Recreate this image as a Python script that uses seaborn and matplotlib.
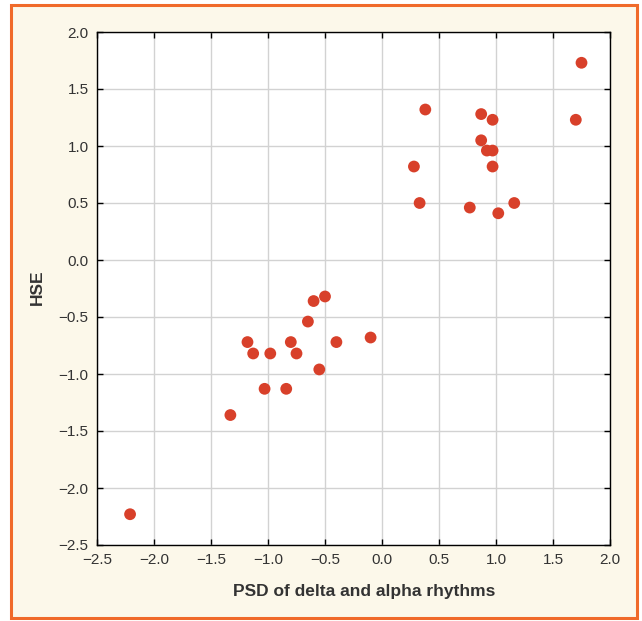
import numpy as np
import pandas as pd
import matplotlib
matplotlib.use("Agg")
import matplotlib.pyplot as plt
from matplotlib.patches import Rectangle
import seaborn as sns

# data
psd = [-2.21, -1.33, -1.03, -0.84, -1.18, -1.13, -0.98, -0.80, -0.75,
       -0.65, -0.60, -0.50, -0.55, -0.40, -0.10,
       1.75, 0.38, 0.87, 0.97, 1.70, 0.87, 0.92, 0.97, 0.28, 0.97,
       0.33, 0.77, 1.02, 1.16]
hse = [-2.23, -1.36, -1.13, -1.13, -0.72, -0.82, -0.82, -0.72, -0.82,
       -0.54, -0.36, -0.32, -0.96, -0.72, -0.68,
       1.73, 1.32, 1.28, 1.23, 1.23, 1.05, 0.96, 0.96, 0.82, 0.82,
       0.50, 0.46, 0.41, 0.50]
ticks = [-2.5, -2.0, -1.5, -1.0, -0.5, 0.0, 0.5, 1.0, 1.5, 2.0]

df = pd.DataFrame({"PSD": psd, "HSE": hse})

sns.set_style("whitegrid")
plt.rcParams["font.family"] = ["Liberation Sans", "DejaVu Sans"]

fig = plt.figure(figsize=(6.42, 6.21), dpi=100, facecolor="white")

# beige panel with orange frame (behind the axes)
fig.patches.append(Rectangle((11/642, 3/621), 626/642, 613/621,
                             transform=fig.transFigure, facecolor="#fcf8ea",
                             edgecolor="#f06a2a", linewidth=2.2, zorder=-5))

ax = fig.add_axes([97/642, 1 - 545/621, 513/642, 513/621])
ax.set_zorder(1)
ax.set_facecolor("white")

sns.scatterplot(data=df, x="PSD", y="HSE", ax=ax, color="#d8402a",
                s=72, edgecolor="none", zorder=3)

ax.set_xlim(-2.5, 2.0)
ax.set_ylim(-2.5, 2.0)
ax.set_xticks(ticks)
ax.set_yticks(ticks)
ax.set_xticklabels([f"{t:.1f}".replace("-", "\u2212") for t in ticks])
ax.set_yticklabels([f"{t:.1f}".replace("-", "\u2212") for t in ticks])

ax.grid(True, color="#d2d2d2", linewidth=1.0)
for sp in ax.spines.values():
    sp.set_visible(True)
    sp.set_color("black")
    sp.set_linewidth(1.0)

ax.tick_params(direction="in", length=4, width=1, color="black",
               top=True, right=True, bottom=True, left=True,
               labelsize=11, labelcolor="#333333", pad=6)

# axis labels, placed where they sit in the original
ax.set_xlabel("PSD of delta and alpha rhythms", fontsize=12.5,
              fontweight="bold", color="#333333")
ax.set_ylabel("HSE", fontsize=12.5, fontweight="bold", color="#333333")
ax.xaxis.set_label_coords(0.52, -0.076)
ax.yaxis.set_label_coords(-0.102, 0.502)

fig.savefig("out.png", dpi=100, facecolor=fig.get_facecolor())
